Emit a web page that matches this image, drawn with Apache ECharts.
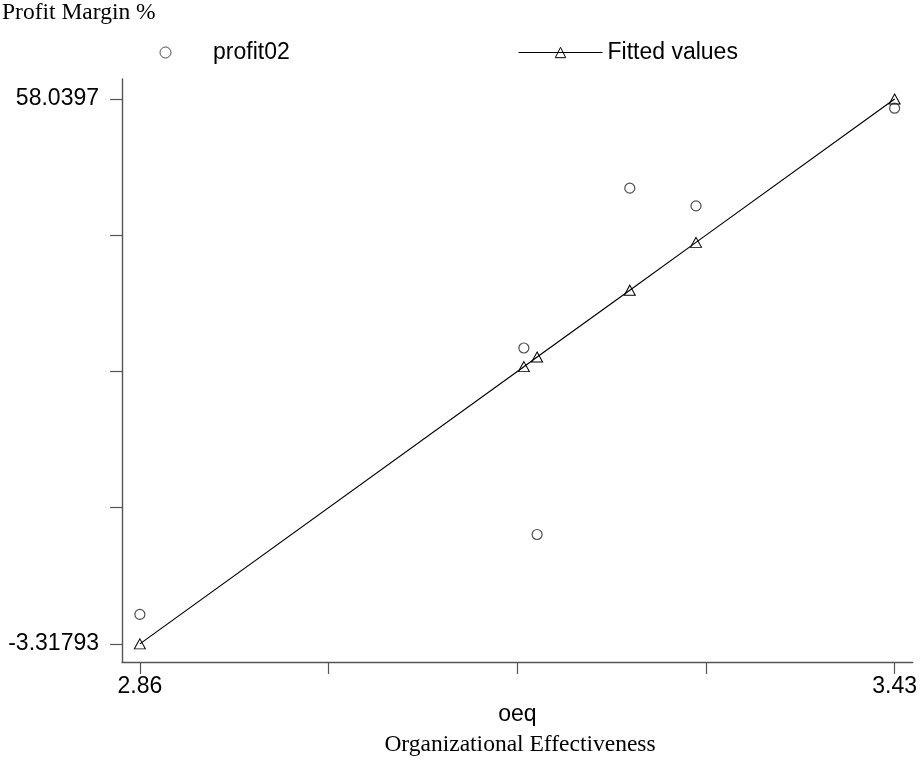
<!DOCTYPE html>
<html>
<head>
<meta charset="utf-8">
<script src="https://cdn.jsdelivr.net/npm/echarts@6/dist/echarts.min.js"></script>
<style>
html,body{margin:0;padding:0;background:#fff}
#chart{width:920px;height:760px}
</style>
</head>
<body>
<div id="chart"></div>
<script>
// Data
const oeq = [2.86, 3.15, 3.16, 3.23, 3.28, 3.43];
const profit02 = [0, 30, 9, 48, 46, 57];
const fittedValues = [-3.31793, 27.899, 28.976, 36.511, 41.893, 58.0397];

// Tick positions and labels
const xTickValues = [2.86, 3.0025, 3.145, 3.2875, 3.43];
const xTickLabels = [2.86, 3.43];
const yTickValues = [-3.31793, 12.02148, 27.36089, 42.7003, 58.0397];
const yTickLabels = [-3.31793, 58.0397];

const SANS = '"Liberation Sans", Arial, sans-serif';
const SERIF = '"Liberation Serif", "Times New Roman", serif';

const chart = echarts.init(document.getElementById('chart'), null, {renderer: 'canvas'});

const axisColor = '#555';

chart.setOption({
  animation: false,
  backgroundColor: '#fff',
  title: {
    text: 'Profit Margin %',
    left: 2,
    top: 1,
    padding: 0,
    textStyle: {fontFamily: SERIF, fontSize: 23.5, fontWeight: 'normal', color: '#000'}
  },
  legend: [
    {
      data: ['profit02'],
      left: 159.5,
      top: 41,
      padding: 0,
      itemWidth: 11,
      itemHeight: 11,
      selectedMode: false,
      itemStyle: {borderWidth: 1},
      textStyle: {fontFamily: SANS, fontSize: 23, color: '#000', padding: [0, 0, 0, 37]}
    },
    {
      data: ['Fitted values'],
      left: 518,
      top: 41,
      padding: 0,
      itemWidth: 84,
      itemHeight: 13,
      selectedMode: false,
      itemStyle: {borderWidth: 1},
      lineStyle: {width: 1},
      textStyle: {fontFamily: SANS, fontSize: 23, color: '#000'}
    }
  ],
  grid: {left: 122, top: 79, width: 794, height: 583, containLabel: false},
  xAxis: {
    type: 'value',
    min: 2.8465,
    max: 3.4437,
    name: 'oeq',
    nameLocation: 'middle',
    nameGap: 37,
    nameTextStyle: {fontFamily: SANS, fontSize: 23, color: '#000'},
    axisLine: {show: true, onZero: false, lineStyle: {color: axisColor, width: 1.4}},
    axisTick: {show: true, length: 12, customValues: xTickValues, lineStyle: {color: axisColor, width: 1.2}},
    axisLabel: {
      customValues: xTickLabels,
      margin: 13,
      fontFamily: SANS, fontSize: 23, color: '#000',
      formatter: v => String(v)
    },
    splitLine: {show: false}
  },
  yAxis: {
    type: 'value',
    min: -5.36,
    max: 60.29,
    axisLine: {show: true, onZero: false, lineStyle: {color: axisColor, width: 1.4}},
    axisTick: {show: true, length: 12, customValues: yTickValues, lineStyle: {color: axisColor, width: 1.2}},
    axisLabel: {
      customValues: yTickLabels,
      margin: 23,
      fontFamily: SANS, fontSize: 23, color: '#000',
      formatter: v => String(v)
    },
    splitLine: {show: false}
  },
  graphic: [
    {
      type: 'text',
      x: 520,
      y: 745,
      style: {
        text: 'Organizational Effectiveness',
        font: '23.5px "Liberation Serif", "Times New Roman", serif',
        fill: '#000',
        align: 'center',
        verticalAlign: 'middle'
      }
    }
  ],
  series: [
    {
      name: 'profit02',
      type: 'scatter',
      data: oeq.map((x, i) => [x, profit02[i]]),
      symbol: 'circle',
      symbolSize: 10,
      itemStyle: {color: 'rgba(255,255,255,0)', borderColor: '#222', borderWidth: 1.2},
      z: 2
    },
    {
      name: 'Fitted values',
      type: 'line',
      data: oeq.map((x, i) => [x, fittedValues[i]]),
      symbol: 'triangle',
      symbolSize: [11, 10],
      showAllSymbol: true,
      itemStyle: {color: 'rgba(255,255,255,0)', borderColor: '#000', borderWidth: 1},
      lineStyle: {color: '#000', width: 1.2},
      z: 3
    }
  ]
});
</script>
</body>
</html>
